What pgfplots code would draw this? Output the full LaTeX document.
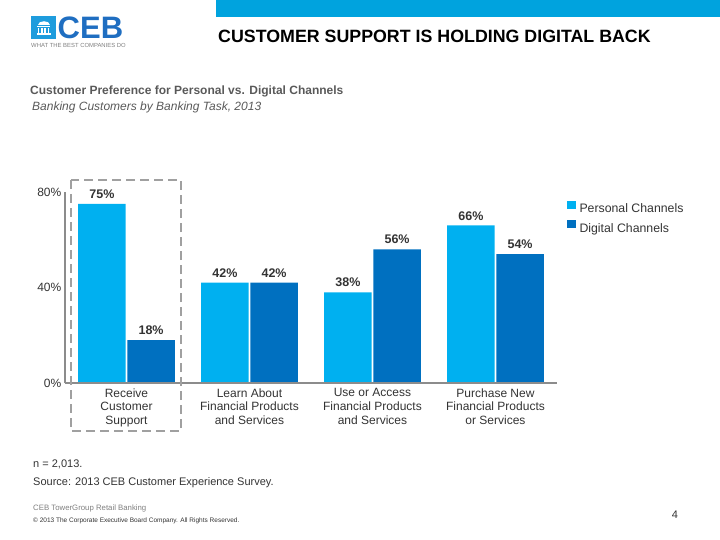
\documentclass[border=0pt]{standalone}
\usepackage{pgfplots}
\pgfplotsset{compat=1.18}
\usepackage{fontspec}
\setmainfont{Liberation Sans}
\definecolor{personal}{HTML}{00B0F0}
\definecolor{digital}{HTML}{0070C0}
\definecolor{topbar}{HTML}{00A3DE}
\definecolor{logoicon}{HTML}{1E9CDD}
\definecolor{logoblue}{HTML}{1F6EC1}
\definecolor{axisgray}{HTML}{8C8C8C}
\definecolor{dashgray}{HTML}{A0A0A0}
\definecolor{subgray}{HTML}{595959}
\definecolor{ticktext}{HTML}{333333}
\definecolor{footgray}{HTML}{7F7F7F}
\begin{document}
\begin{tikzpicture}
\begin{axis}[
  at={(65pt,-383pt)}, anchor=south west,
  scale only axis, width=492pt, height=191pt,
  xmin=-0.5, xmax=3.5, ymin=0, ymax=80,
  enlargelimits=false,
  axis x line=bottom, axis y line=left,
  axis line style={-, draw=axisgray, line width=1.5pt},
  axis on top,
  major tick length=0pt,
  /pgf/number format/assume math mode=true,
  ybar=1.8pt, bar width=0.385,
  legend image code/.code={\fill[#1] (0pt,0pt) rectangle (8.5pt,8.5pt);},
  xtick={0,1,2,3},
  xticklabels={{Receive\\Customer\\Support},{Learn About\\Financial Products\\and Services},{Use or Access\\Financial Products\\and Services},{Purchase New\\Financial Products\\or Services}},
  xticklabel style={align=center, font=\fontsize{12}{13.6}\selectfont, inner sep=0pt, yshift=-5.5pt, text=ticktext},
  ytick={0,40,80},
  yticklabel={\pgfmathprintnumber{\tick}\%},
  yticklabel style={font=\fontsize{12}{13}\selectfont, inner sep=0pt, xshift=-3.5pt, text=ticktext},
  nodes near coords={\pgfmathprintnumber{\pgfplotspointmeta}\%},
  every node near coord/.append style={font=\fontsize{12.5}{13}\selectfont\bfseries, text=ticktext, inner sep=0pt, yshift=5pt},
  legend style={at={(1,1)}, anchor=north west, xshift=10pt, yshift=-8.7pt, draw=none, fill=none, inner sep=0pt, outer sep=0pt, row sep=5.5pt, font=\fontsize{12.3}{13}\selectfont, text=ticktext, nodes={inner sep=0pt, outer sep=0pt}, /tikz/every odd column/.style={column sep=4pt}},
  legend cell align=left,
]
\addplot[fill=personal, draw=none] coordinates {(0,75) (1,42) (2,38) (3,66)};
\addlegendentry{Personal Channels}
\addplot[fill=digital, draw=none] coordinates {(0,18) (1,42) (2,56) (3,54)};
\addlegendentry{Digital Channels}
\end{axis}
\begin{scope}[x=1pt,y=-1pt]
\path (0,0) rectangle (720,540);
\fill[topbar] (216,0) rectangle (720,17.5);
% logo
\fill[logoicon] (31,16) rectangle (56,39);
\fill[white] (37.5,25.2) .. controls (37.5,20.2) and (49.5,20.2) .. (49.5,25.2) -- cycle;
\fill[white] (37,26) rectangle (50,27.3);
\foreach \cx in {38.6,41.9,45.1,48.4} {\fill[white] (\cx-0.8,28) rectangle (\cx+0.8,32.6);}
\fill[white] (36.5,33.2) rectangle (50.5,34.8);
\node[anchor=base west, inner sep=0pt, font=\fontsize{31}{31}\selectfont\bfseries, text=logoblue] at (57.5,38.5) {CEB};
\node[anchor=base west, inner sep=0pt, font=\fontsize{5.9}{6}\selectfont, text=footgray] at (31,48) {WHAT THE BEST COMPANIES DO};
% titles
\node[anchor=base west, inner sep=0pt, font=\fontsize{17.8}{18}\selectfont\bfseries] at (218,42.4) {CUSTOMER SUPPORT IS HOLDING DIGITAL BACK};
\node[anchor=base west, inner sep=0pt, font=\fontsize{12}{13}\selectfont\bfseries, text=subgray] at (30,94.3) {Customer Preference for Personal vs. Digital Channels};
\node[anchor=base west, inner sep=0pt, font=\fontsize{12}{13}\selectfont\itshape, text=subgray] at (32,110.3) {Banking Customers by Banking Task, 2013};
% highlight box
\draw[dashgray, line width=2.5pt, dash pattern=on 9pt off 5pt] (71,180) rectangle (181,431);
% footer
\node[anchor=base west, inner sep=0pt, font=\fontsize{11}{12}\selectfont, text=ticktext] at (33,467.3) {n = 2,013.};
\node[anchor=base west, inner sep=0pt, font=\fontsize{11}{12}\selectfont, text=ticktext] at (33,485.3) {Source: 2013 CEB Customer Experience Survey.};
\node[anchor=base west, inner sep=0pt, font=\fontsize{7.8}{8}\selectfont, text=footgray] at (33,510) {CEB TowerGroup Retail Banking};
\node[anchor=base west, inner sep=0pt, font=\fontsize{6.5}{7}\selectfont, text=ticktext] at (33,522.5) {\textcopyright\ 2013 The Corporate Executive Board Company. All Rights Reserved.};
\node[anchor=base, inner sep=0pt, font=\fontsize{11}{12}\selectfont, text=ticktext] at (675,518) {4};
\end{scope}
\end{tikzpicture}
\end{document}
